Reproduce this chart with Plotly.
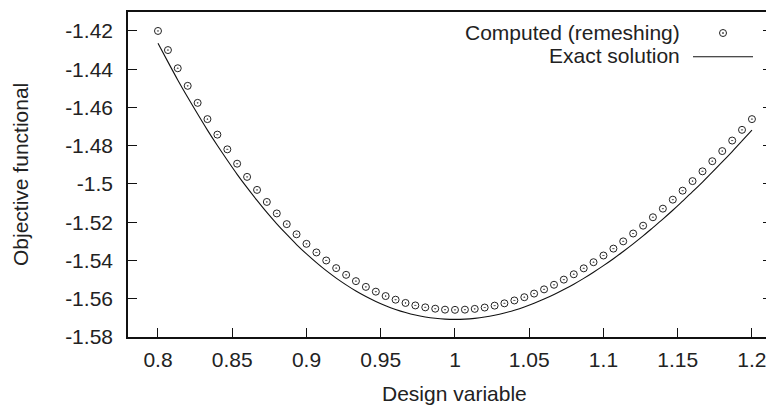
import plotly.graph_objects as go

# Design variable sample points (61 evenly spaced values between 0.8 and 1.2)
design_x = [0.8, 0.8067, 0.8133, 0.82, 0.8267, 0.8333, 0.84, 0.8467, 0.8533, 0.86,
            0.8667, 0.8733, 0.88, 0.8867, 0.8933, 0.9, 0.9067, 0.9133, 0.92, 0.9267,
            0.9333, 0.94, 0.9467, 0.9533, 0.96, 0.9667, 0.9733, 0.98, 0.9867, 0.9933,
            1.0, 1.0067, 1.0133, 1.02, 1.0267, 1.0333, 1.04, 1.0467, 1.0533, 1.06,
            1.0667, 1.0733, 1.08, 1.0867, 1.0933, 1.1, 1.1067, 1.1133, 1.12, 1.1267,
            1.1333, 1.14, 1.1467, 1.1533, 1.16, 1.1667, 1.1733, 1.18, 1.1867, 1.1933, 1.2]

computed_remeshing = [-1.4200, -1.4300, -1.4395, -1.4487, -1.4576, -1.4661, -1.4742, -1.4819,
                      -1.4894, -1.4963, -1.5031, -1.5094, -1.5154, -1.5210, -1.5263, -1.5313,
                      -1.5358, -1.5400, -1.5440, -1.5475, -1.5508, -1.5538, -1.5563, -1.5586,
                      -1.5605, -1.5622, -1.5635, -1.5645, -1.5652, -1.5657, -1.5658, -1.5657,
                      -1.5653, -1.5646, -1.5636, -1.5624, -1.5609, -1.5592, -1.5573, -1.5551,
                      -1.5527, -1.5500, -1.5472, -1.5441, -1.5409, -1.5374, -1.5338, -1.5300,
                      -1.5259, -1.5218, -1.5174, -1.5129, -1.5082, -1.5035, -1.4985, -1.4934,
                      -1.4881, -1.4828, -1.4773, -1.4717, -1.4661]

exact_solution = [-1.42638, -1.43617, -1.44560, -1.45470, -1.46345, -1.47185, -1.47991, -1.48761,
                  -1.49495, -1.50194, -1.50859, -1.51488, -1.52082, -1.52641, -1.53166, -1.53656,
                  -1.54111, -1.54533, -1.54921, -1.55274, -1.55596, -1.55885, -1.56141, -1.56365,
                  -1.56557, -1.56719, -1.56851, -1.56951, -1.57023, -1.57066, -1.57080, -1.57066,
                  -1.57025, -1.56957, -1.56862, -1.56743, -1.56598, -1.56428, -1.56235, -1.56019,
                  -1.55780, -1.55519, -1.55237, -1.54934, -1.54611, -1.54268, -1.53907, -1.53527,
                  -1.53129, -1.52715, -1.52283, -1.51836, -1.51374, -1.50896, -1.50405, -1.49899,
                  -1.49380, -1.48849, -1.48306, -1.47752, -1.47185]

x_tick_vals = [0.8, 0.85, 0.9, 0.95, 1.0, 1.05, 1.1, 1.15, 1.2]
x_tick_text = ["0.8", "0.85", "0.9", "0.95", "1", "1.05", "1.1", "1.15", "1.2"]
y_tick_vals = [-1.58, -1.56, -1.54, -1.52, -1.5, -1.48, -1.46, -1.44, -1.42]
y_tick_text = ["-1.58", "-1.56", "-1.54", "-1.52", "-1.5", "-1.48", "-1.46", "-1.44", "-1.42"]

FONT = "Liberation Sans, Arial, sans-serif"
FS = 21
TXT = "#222222"

# The page body has an 8px margin, so the figure is drawn 8px right/down.
OFF = 8
PAGE_W, PAGE_H = 774, 407
W, H = PAGE_W - OFF, PAGE_H - OFF
# plot area in page pixels: left 128, right 772, top 12, bottom 337
L, T = 128 - OFF, 12 - OFF
PW, PH = 772 - 128, 337 - 12
R = W - L - PW
B = H - T - PH


def px(page_x):
    return (page_x - OFF - L) / PW


def py(page_y):
    return (T + PH - (page_y - OFF)) / PH


fig = go.Figure()
fig.add_trace(go.Scatter(
    x=design_x, y=exact_solution, mode="lines", name="Exact solution",
    line=dict(color="#111111", width=1.1, shape="spline"), showlegend=False))
fig.add_trace(go.Scatter(
    x=design_x, y=computed_remeshing, mode="markers", name="Computed (remeshing)",
    marker=dict(symbol="circle-open-dot", size=7, color="#222222",
                line=dict(width=1, color="#222222")), showlegend=False))

axis_common = dict(showgrid=False, zeroline=False, showline=True, linecolor="#111111",
                   linewidth=1.6, ticks="inside", ticklen=9, tickwidth=1.2,
                   tickcolor="#111111", automargin=False,
                   tickfont=dict(family=FONT, size=FS, color=TXT))

fig.update_xaxes(range=[0.7798, 1.2135], tickvals=x_tick_vals, ticktext=x_tick_text,
                 mirror=True, ticklabelstandoff=3, **axis_common)
fig.update_yaxes(range=[-1.58, -1.4101], tickvals=y_tick_vals, ticktext=y_tick_text,
                 mirror="ticks", ticklabelstandoff=9, **axis_common)

annotations = [
    dict(text="Design variable", x=px(454), y=py(393), xref="paper", yref="paper",
         showarrow=False, xanchor="center", yanchor="middle",
         font=dict(family=FONT, size=FS, color=TXT)),
    dict(text="Objective functional", x=px(21), y=py(175), xref="paper", yref="paper",
         showarrow=False, xanchor="center", yanchor="middle", textangle=-90,
         font=dict(family=FONT, size=FS, color=TXT)),
    dict(text="Computed (remeshing)", x=px(682), y=py(32.5), xref="paper", yref="paper",
         showarrow=False, xanchor="right", yanchor="middle",
         font=dict(family=FONT, size=FS, color=TXT)),
    dict(text="Exact solution", x=px(682), y=py(55), xref="paper", yref="paper",
         showarrow=False, xanchor="right", yanchor="middle",
         font=dict(family=FONT, size=FS, color=TXT)),
]

shapes = [
    dict(type="line", xref="paper", yref="paper", x0=px(693), x1=px(753),
         y0=py(56.7), y1=py(56.7), line=dict(color="#111111", width=1.1)),
    dict(type="circle", xref="paper", yref="paper", x0=px(719.5), x1=px(726.5),
         y0=py(36.5), y1=py(29.5), line=dict(color="#222222", width=1)),
    dict(type="circle", xref="paper", yref="paper", x0=px(722.4), x1=px(723.6),
         y0=py(33.6), y1=py(32.4), line=dict(color="#222222", width=0.6),
         fillcolor="#222222"),
]

fig.update_layout(width=W, height=H, margin=dict(l=L, r=R, t=T, b=B, pad=0),
                  paper_bgcolor="white", plot_bgcolor="white",
                  annotations=annotations, shapes=shapes, showlegend=False)

fig.write_html("out.html")
